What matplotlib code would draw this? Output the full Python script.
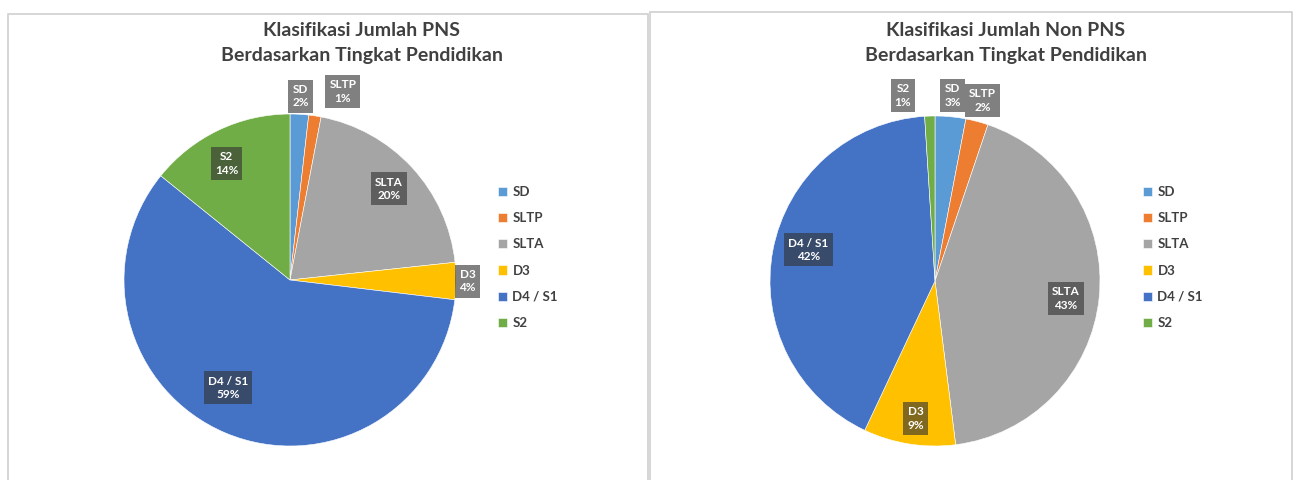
import matplotlib
matplotlib.use("Agg")
import matplotlib.pyplot as plt
from matplotlib.patches import Rectangle
import numpy as np

categories = ["SD", "SLTP", "SLTA", "D3", "D4 / S1", "S2"]
pns_values = [1.8, 1.2, 20.3, 3.6, 58.9, 14.2]
pns_labels = ["2%", "1%", "20%", "4%", "59%", "14%"]
nonpns_values = [3.0, 2.2, 42.8, 9.0, 42.0, 1.0]
nonpns_labels = ["3%", "2%", "43%", "9%", "42%", "1%"]
colors = ["#5B9BD5", "#ED7D31", "#A5A5A5", "#FFC000", "#4472C4", "#70AD47"]

W, H = 1297, 480
fig = plt.figure(figsize=(W / 100, H / 100), dpi=100)
plt.rcParams['font.family'] = ['Lato', 'DejaVu Sans']

def px_axes(cx, cy, r):
    return fig.add_axes([(cx - r) / W, (H - cy - r) / H, 2 * r / W, 2 * r / H])

# panel borders
for (x0, y0, x1) in [(8, 14, 648), (650, 12, 1292)]:
    fig.patches.append(Rectangle((x0 / W, -0.05), (x1 - x0) / W, (H - y0) / H + 0.05,
                                 transform=fig.transFigure, fill=False,
                                 edgecolor="#d0d0d0", linewidth=1.2))

def draw(cx, cy, r, values, labels, dists, dang, title, tx, leg_x):
    ax = px_axes(cx, cy, r)
    wedges, _ = ax.pie(values, colors=colors, startangle=90, counterclock=False,
                       wedgeprops=dict(edgecolor="white", linewidth=0.4))
    ax.set_xlim(-1, 1)
    ax.set_ylim(-1, 1)
    ax.set_aspect("equal")
    for w, cat, lab, d, da in zip(wedges, categories, labels, dists, dang):
        th = np.deg2rad((w.theta1 + w.theta2) / 2 + da)
        x, y = d * np.cos(th), d * np.sin(th)
        ax.text(x, y, f"{cat}\n{lab}", ha="center", va="center", color="white",
                fontsize=8.5, fontweight="bold", linespacing=1.3, zorder=5,
                bbox=dict(boxstyle="square,pad=0.35", fc="#333333", ec="none", alpha=0.62))
    fig.text(tx / W, 1 - 30 / H, title[0], ha="center", va="center", fontsize=14,
             fontweight="bold", color="#404040")
    fig.text(tx / W, 1 - 56 / H, title[1], ha="center", va="center", fontsize=14,
             fontweight="bold", color="#404040")
    ax.legend(wedges, categories, loc="upper left",
              bbox_to_anchor=(leg_x / W, 1 - 174 / H), bbox_transform=fig.transFigure,
              frameon=False, handlelength=0.7, handleheight=0.7, handletextpad=0.4,
              labelspacing=1.08, prop=dict(size=9.5, weight="bold"), labelcolor="#404040")

draw(290, 280, 166, pns_values, pns_labels,
     [1.11, 1.18, 0.81, 1.07, 0.75, 0.8], [0, -7, 0, 0, -7, 3],
     ["Klasifikasi Jumlah PNS", "Berdasarkan Tingkat Pendidikan"], 362, 486)
draw(935, 281, 165, nonpns_values, nonpns_labels,
     [1.13, 1.13, 0.8, 0.84, 0.79, 1.14], [0, 0, -2, 1, -3, 8],
     ["Klasifikasi Jumlah Non PNS", "Berdasarkan Tingkat Pendidikan"], 1006, 1131)

fig.savefig("out.png", dpi=100)
